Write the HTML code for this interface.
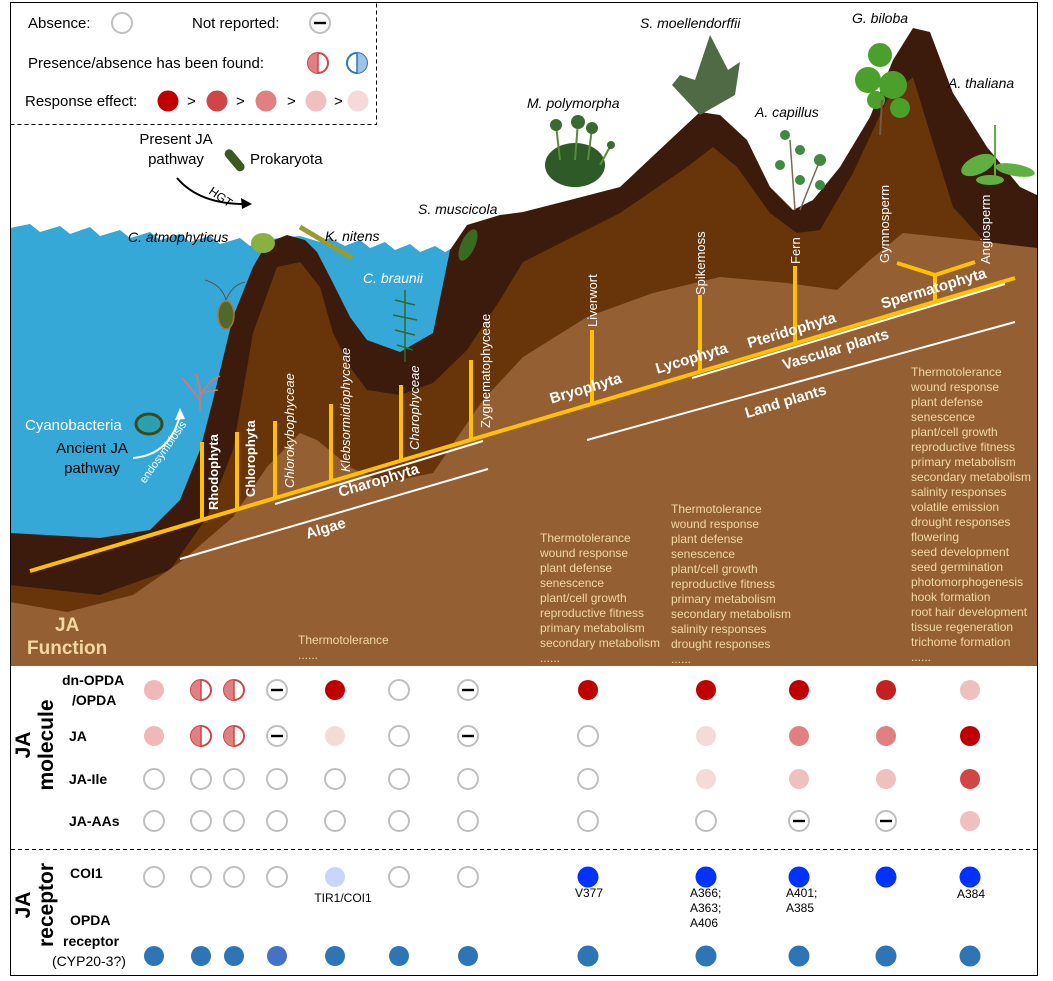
<!DOCTYPE html>
<html><head><meta charset="utf-8"><style>
html,body{margin:0;padding:0;background:#fff;}
svg{display:block;font-family:"Liberation Sans",Arial,sans-serif;}
.fn{fill:#f3d9a0;font-size:12px;}
.vl{fill:#fff;font-size:13px;}
.cl{fill:#fff;font-size:15px;font-weight:bold;}
.sp{font-size:14px;font-style:italic;fill:#000;}
.tl{font-size:14px;font-weight:bold;fill:#000;}
.lg{font-size:15px;fill:#000;}
</style></head><body>
<svg width="1053" height="981" viewBox="0 0 1053 981" xmlns="http://www.w3.org/2000/svg">
<defs>
<g id="e"><circle r="10" fill="#fff" stroke="#bfbfbf" stroke-width="2"/></g>
<g id="m"><circle r="10" fill="#fff" stroke="#bfbfbf" stroke-width="2"/><rect x="-6" y="-1.2" width="12" height="2.4" fill="#000"/></g>
<g id="h"><circle r="10" fill="#fff" stroke="#d04545" stroke-width="2"/><path d="M0,-10 A10,10 0 0,0 0,10 Z" fill="#e08080"/><line x1="0" y1="-10" x2="0" y2="10" stroke="#d04545" stroke-width="1.5"/></g>
</defs>
<polygon fill="#35a8d8" points="10,228 30,224 40,232 60,226 70,234 90,227 100,236 120,230 130,238 150,232 160,240 180,234 190,242 210,236 220,244 240,238 250,246 262,240 300,236 320,242 330,238 345,246 360,240 370,248 385,242 395,250 410,244 420,252 435,246 445,252 460,244 470,240 470,560 10,560"/>
<polygon fill="#3c1b0c" points="10,533 100,538 150,530 180,500 200,450 213,400 233,317 253,267 267,243 287,235 305,240 317,252 333,283 350,317 367,340 400,352 433,333 450,250 467,225 500,215 523,212 570,200 620,187 670,140 700,112 720,115 747,140 770,187 793,210 813,200 840,167 870,117 893,60 913,28 930,32 953,93 987,147 1020,187 1037,195 1037,666 10,666"/>
<polygon fill="#673509" points="10,585 100,595 170,570 207,517 233,450 253,333 277,267 300,262 320,287 333,333 350,367 367,390 400,395 433,383 467,350 500,300 523,262 620,213 687,167 713,147 737,167 770,213 797,233 820,230 853,173 887,100 913,77 930,133 953,207 1003,262 1037,275 1037,666 10,666"/>
<polygon fill="#935f33" points="10,602 67,612 133,595 183,560 233,517 267,467 300,433 317,440 350,467 383,483 433,473 483,400 523,357 587,317 653,293 720,277 787,283 837,290 870,260 903,233 970,240 1037,248 1037,666 10,666"/>
<rect x="10.5" y="2.5" width="1027" height="973" fill="none" stroke="#000" stroke-width="1"/>
<polyline points="10.5,124.5 376.5,124.5 376.5,2" fill="none" stroke="#000" stroke-dasharray="4,3"/>
<text class="lg" x="28" y="28">Absence:</text>
<circle cx="122" cy="23" r="10" fill="#fff" stroke="#bfbfbf" stroke-width="2"/>
<text class="lg" x="192" y="28">Not reported:</text>
<use href="#m" x="320" y="23"/>
<text class="lg" x="28" y="68">Presence/absence has been found:</text>
<use href="#h" x="318" y="63"/>
<circle cx="357" cy="63" r="10" fill="#fff" stroke="#2e75b6" stroke-width="2"/><path d="M357,53 A10,10 0 0,1 357,73 Z" fill="#9dc3e6"/><line x1="357" y1="53" x2="357" y2="73" stroke="#2e75b6" stroke-width="1.5"/>
<text class="lg" x="25" y="106">Response effect:</text>
<circle cx="168" cy="101" r="10.5" fill="#c00000"/><text class="lg" x="187" y="106">&gt;</text>
<circle cx="217" cy="101" r="10.5" fill="#d04545"/><text class="lg" x="236" y="106">&gt;</text>
<circle cx="266" cy="101" r="10.5" fill="#e08080"/><text class="lg" x="287" y="106">&gt;</text>
<circle cx="316" cy="101" r="10.5" fill="#eec0c0"/><text class="lg" x="334" y="106">&gt;</text>
<circle cx="358" cy="101" r="10.5" fill="#f5dada"/>
<text class="lg" x="176" y="144" text-anchor="middle">Present JA</text>
<text class="lg" x="176" y="164" text-anchor="middle">pathway</text>
<rect x="222" y="156" width="26" height="9" rx="4.5" fill="#3b5a23" transform="rotate(50 235 160)"/>
<text class="lg" x="250" y="164">Prokaryota</text>
<path d="M177,178 Q200,205 248,204" fill="none" stroke="#000" stroke-width="2"/>
<path d="M252,204 L241,198 L242,209 Z" fill="#000"/>
<text x="208" y="193" font-size="12" transform="rotate(35 208 193)" fill="#000">HGT</text>
<ellipse cx="575" cy="165" rx="30" ry="22" fill="#2e5a28"/>
<g stroke="#5a8a3a" stroke-width="2"><line x1="560" y1="160" x2="556" y2="125"/><line x1="575" y1="160" x2="578" y2="122"/><line x1="588" y1="160" x2="592" y2="128"/><line x1="600" y1="165" x2="611" y2="145"/></g>
<g fill="#3a6a30"><circle cx="556" cy="125" r="6"/><circle cx="578" cy="122" r="7"/><circle cx="592" cy="128" r="6"/><circle cx="611" cy="145" r="4"/></g>
<polygon points="710,35 728,70 740,62 735,95 700,115 672,85 680,75 695,80" fill="#4f6a45"/>
<g fill="#3e8a3e"><circle cx="785" cy="135" r="5"/><circle cx="800" cy="150" r="5"/><circle cx="780" cy="165" r="5"/><circle cx="820" cy="160" r="6"/><circle cx="800" cy="180" r="5"/><circle cx="820" cy="185" r="5"/></g>
<path d="M795,210 L790,140 M800,210 L820,160" stroke="#7a6a55" stroke-width="1.5" fill="none"/>
<g fill="#4aa02a"><circle cx="880" cy="55" r="12"/><circle cx="868" cy="80" r="13"/><circle cx="893" cy="85" r="14"/><circle cx="900" cy="108" r="10"/><circle cx="876" cy="100" r="9"/></g>
<line x1="880" y1="135" x2="882" y2="100" stroke="#7a5a3a" stroke-width="2"/>
<g fill="#5fb040"><ellipse cx="978" cy="165" rx="18" ry="9" transform="rotate(-25 978 165)"/><ellipse cx="1015" cy="170" rx="20" ry="6" transform="rotate(10 1015 170)"/><ellipse cx="990" cy="180" rx="14" ry="5"/></g>
<line x1="995" y1="178" x2="995" y2="125" stroke="#5fb040" stroke-width="2"/>
<ellipse cx="263" cy="243" rx="12" ry="10" fill="#8ab040"/>
<line x1="300" y1="227" x2="352" y2="258" stroke="#9a9a30" stroke-width="5"/>
<ellipse cx="468" cy="245" rx="7" ry="17" fill="#3a6a20" transform="rotate(25 468 245)"/>
<g stroke="#2f6a2a" stroke-width="1.5" fill="none"><line x1="405" y1="290" x2="405" y2="362"/><path d="M395,300 L415,305 M393,315 L417,320 M395,330 L415,335 M397,345 L413,350"/></g>
<ellipse cx="226" cy="315" rx="8" ry="14" fill="#4e6a2a" stroke="#b07040" stroke-width="1.5"/>
<path d="M226,300 Q222,285 205,280 M226,300 Q232,285 245,282" stroke="#555" fill="none"/>
<g stroke="#e8706a" stroke-width="1.5" fill="none"><path d="M200,412 L200,385 M200,400 L188,385 M200,395 L212,380 M188,385 L182,378 M212,380 L220,376 M200,388 L196,374 M205,392 L218,390"/></g>
<text x="25" y="430" font-size="15" fill="#fff">Cyanobacteria</text>
<ellipse cx="149" cy="424" rx="13" ry="10" fill="#2aa0b0" stroke="#3a4a1a" stroke-width="3"/>
<text x="92" y="453" font-size="15" text-anchor="middle" fill="#000">Ancient JA</text>
<text x="92" y="473" font-size="15" text-anchor="middle" fill="#000">pathway</text>
<path d="M133,458 Q170,455 180,415" fill="none" stroke="#fff" stroke-width="2"/>
<path d="M180,408 L175,420 L185,419 Z" fill="#fff"/>
<text x="145" y="484" font-size="11" fill="#fff" transform="rotate(-55 145 484)">endosymbiosis</text>
<text class="sp" x="640" y="28">S. moellendorffii</text>
<text class="sp" x="852" y="23">G. biloba</text>
<text class="sp" x="527" y="108">M. polymorpha</text>
<text class="sp" x="755" y="117">A. capillus</text>
<text class="sp" x="948" y="88">A. thaliana</text>
<text class="sp" x="418" y="214">S. muscicola</text>
<text class="sp" x="128" y="242">C. atmophyticus</text>
<text class="sp" x="325" y="241">K. nitens</text>
<text class="sp" x="363" y="283" style="fill:#fff">C. braunii</text>
<g stroke="#ffc000" stroke-width="4" fill="none">
<line x1="30" y1="571" x2="1015" y2="278"/>
<line x1="202" y1="442" x2="202" y2="520"/>
<line x1="237" y1="432" x2="237" y2="510"/>
<line x1="275" y1="421" x2="275" y2="498"/>
<line x1="331" y1="404" x2="331" y2="482"/>
<line x1="401" y1="385" x2="401" y2="461"/>
<line x1="471" y1="360" x2="471" y2="440"/>
<line x1="592" y1="330" x2="592" y2="404"/>
<line x1="700" y1="295" x2="700" y2="372"/>
<line x1="795" y1="266" x2="795" y2="343"/>
<line x1="935" y1="275" x2="935" y2="302"/>
<polyline points="897,263 935,275 975,262"/>
</g>
<g stroke="#fff" stroke-width="2">
<line x1="275" y1="504" x2="483" y2="441"/>
<line x1="180" y1="559" x2="488" y2="469"/>
<line x1="692" y1="378" x2="1005" y2="284"/>
<line x1="587" y1="440" x2="1015" y2="322"/>
</g>
<text class="vl" font-weight="bold" transform="translate(218,510) rotate(-90)">Rhodophyta</text>
<text class="vl" font-weight="bold" transform="translate(255,497) rotate(-90)">Chlorophyta</text>
<text class="vl" font-style="italic" transform="translate(294,488) rotate(-90)">Chlorokybophyceae</text>
<text class="vl" font-style="italic" transform="translate(350,472) rotate(-90)">Klebsormidiophyceae</text>
<text class="vl" font-style="italic" transform="translate(419,450) rotate(-90)">Charophyceae</text>
<text class="vl" transform="translate(490,428) rotate(-90)">Zygnematophyceae</text>
<text class="vl" transform="translate(597,327) rotate(-90)">Liverwort</text>
<text class="vl" transform="translate(705,295) rotate(-90)">Spikemoss</text>
<text class="vl" transform="translate(800,264) rotate(-90)">Fern</text>
<text class="vl" transform="translate(889,263) rotate(-90)">Gymnosperm</text>
<text class="vl" transform="translate(990,264) rotate(-90)">Angiosperm</text>
<text class="cl" text-anchor="middle" transform="translate(380,485) rotate(-16.7)">Charophyta</text>
<text class="cl" text-anchor="middle" font-size="16" transform="translate(327,533) rotate(-16.7)">Algae</text>
<text class="cl" text-anchor="middle" font-size="14" transform="translate(587,393) rotate(-16.7)">Bryophyta</text>
<text class="cl" text-anchor="middle" font-size="14" transform="translate(693,363) rotate(-16.7)">Lycophyta</text>
<text class="cl" text-anchor="middle" font-size="14" transform="translate(793,335) rotate(-16.7)">Pteridophyta</text>
<text class="cl" text-anchor="middle" font-size="14" transform="translate(935,293) rotate(-16.7)">Spermatophyta</text>
<text class="cl" text-anchor="middle" font-size="17" transform="translate(837,354) rotate(-16.7)">Vascular  plants</text>
<text class="cl" text-anchor="middle" font-size="17" transform="translate(787,406) rotate(-16.7)">Land plants</text>
<text x="55" y="631" font-size="19" font-weight="bold" fill="#f3d9a0">JA</text>
<text x="27" y="654" font-size="19" font-weight="bold" fill="#f3d9a0">Function</text>
<g class="fn">
<text x="298" y="644">Thermotolerance</text><text x="298" y="659">......</text>
<text x="540" y="542"><tspan x="540">Thermotolerance</tspan><tspan x="540" dy="15">wound response</tspan><tspan x="540" dy="15">plant defense</tspan><tspan x="540" dy="15">senescence</tspan><tspan x="540" dy="15">plant/cell growth</tspan><tspan x="540" dy="15">reproductive fitness</tspan><tspan x="540" dy="15">primary metabolism</tspan><tspan x="540" dy="15">secondary metabolism</tspan><tspan x="540" dy="15">......</tspan></text>
<text x="671" y="513"><tspan x="671">Thermotolerance</tspan><tspan x="671" dy="15">wound response</tspan><tspan x="671" dy="15">plant defense</tspan><tspan x="671" dy="15">senescence</tspan><tspan x="671" dy="15">plant/cell growth</tspan><tspan x="671" dy="15">reproductive fitness</tspan><tspan x="671" dy="15">primary metabolism</tspan><tspan x="671" dy="15">secondary metabolism</tspan><tspan x="671" dy="15">salinity responses</tspan><tspan x="671" dy="15">drought responses</tspan><tspan x="671" dy="15">......</tspan></text>
<text x="911" y="376"><tspan x="911">Thermotolerance</tspan><tspan x="911" dy="15">wound response</tspan><tspan x="911" dy="15">plant defense</tspan><tspan x="911" dy="15">senescence</tspan><tspan x="911" dy="15">plant/cell growth</tspan><tspan x="911" dy="15">reproductive fitness</tspan><tspan x="911" dy="15">primary metabolism</tspan><tspan x="911" dy="15">secondary metabolism</tspan><tspan x="911" dy="15">salinity responses</tspan><tspan x="911" dy="15">volatile emission</tspan><tspan x="911" dy="15">drought responses</tspan><tspan x="911" dy="15">flowering</tspan><tspan x="911" dy="15">seed development</tspan><tspan x="911" dy="15">seed germination</tspan><tspan x="911" dy="15">photomorphogenesis</tspan><tspan x="911" dy="15">hook formation</tspan><tspan x="911" dy="15">root hair development</tspan><tspan x="911" dy="15">tissue regeneration</tspan><tspan x="911" dy="15">trichome formation</tspan><tspan x="911" dy="15">......</tspan></text>
</g>
<rect x="11" y="666" width="1026" height="309" fill="#fff"/>
<line x1="10.5" y1="666" x2="10.5" y2="976" stroke="#000"/>
<line x1="1037.5" y1="666" x2="1037.5" y2="976" stroke="#000"/>
<line x1="10" y1="975.5" x2="1038" y2="975.5" stroke="#000"/>
<line x1="11" y1="849.5" x2="1037" y2="849.5" stroke="#000" stroke-dasharray="4,3"/>
<text class="tl" x="62" y="685">dn-OPDA</text>
<text class="tl" x="72" y="705">/OPDA</text>
<text class="tl" x="69" y="741">JA</text>
<text class="tl" x="69" y="784">JA-Ile</text>
<text class="tl" x="69" y="826">JA-AAs</text>
<text class="tl" x="70" y="878">COI1</text>
<text class="tl" x="70" y="925">OPDA</text>
<text class="tl" x="63" y="946">receptor</text>
<text x="52" y="966" font-size="14" fill="#000">(CYP20-3?)</text>
<text font-size="21" font-weight="bold" fill="#000" text-anchor="middle" transform="translate(30,745) rotate(-90)">JA</text>
<text font-size="21" font-weight="bold" fill="#000" text-anchor="middle" transform="translate(53,745) rotate(-90)">molecule</text>
<text font-size="21" font-weight="bold" fill="#000" text-anchor="middle" transform="translate(30,905) rotate(-90)">JA</text>
<text font-size="21" font-weight="bold" fill="#000" text-anchor="middle" transform="translate(53,905) rotate(-90)">receptor</text>
<circle cx="154" cy="690" r="10" fill="#f0b8b8"/><use href="#h" x="201" y="690"/><use href="#h" x="234" y="690"/><use href="#m" x="277" y="690"/>
<circle cx="335" cy="690" r="10" fill="#c00000"/><use href="#e" x="399" y="690"/><use href="#m" x="468" y="690"/>
<circle cx="588" cy="690" r="10" fill="#c00000"/><circle cx="706" cy="690" r="10" fill="#c00000"/><circle cx="799" cy="690" r="10" fill="#c00000"/><circle cx="886" cy="690" r="10" fill="#c42020"/><circle cx="970" cy="690" r="10" fill="#eec0c0"/>
<circle cx="154" cy="736" r="10" fill="#f0b8b8"/><use href="#h" x="201" y="736"/><use href="#h" x="234" y="736"/><use href="#m" x="277" y="736"/>
<circle cx="335" cy="736" r="10" fill="#f5dada"/><use href="#e" x="399" y="736"/><use href="#m" x="468" y="736"/>
<use href="#e" x="588" y="736"/><circle cx="706" cy="736" r="10" fill="#f5dada"/><circle cx="799" cy="736" r="10" fill="#e08080"/><circle cx="886" cy="736" r="10" fill="#e08080"/><circle cx="970" cy="736" r="10" fill="#c00000"/>
<use href="#e" x="154" y="779"/><use href="#e" x="201" y="779"/><use href="#e" x="234" y="779"/><use href="#e" x="277" y="779"/><use href="#e" x="335" y="779"/><use href="#e" x="399" y="779"/><use href="#e" x="468" y="779"/><use href="#e" x="588" y="779"/>
<circle cx="706" cy="779" r="10" fill="#f5dada"/><circle cx="799" cy="779" r="10" fill="#eec0c0"/><circle cx="886" cy="779" r="10" fill="#eec0c0"/><circle cx="970" cy="779" r="10" fill="#d04545"/>
<use href="#e" x="154" y="821"/><use href="#e" x="201" y="821"/><use href="#e" x="234" y="821"/><use href="#e" x="277" y="821"/><use href="#e" x="335" y="821"/><use href="#e" x="399" y="821"/><use href="#e" x="468" y="821"/><use href="#e" x="588" y="821"/><use href="#e" x="706" y="821"/>
<use href="#m" x="799" y="821"/><use href="#m" x="886" y="821"/><circle cx="970" cy="821" r="10" fill="#eec0c0"/>
<use href="#e" x="154" y="877"/><use href="#e" x="201" y="877"/><use href="#e" x="234" y="877"/><use href="#e" x="277" y="877"/>
<circle cx="335" cy="877" r="10" fill="#c9d5fb"/><use href="#e" x="399" y="877"/><use href="#e" x="468" y="877"/>
<circle cx="588" cy="877" r="10.5" fill="#0033ff"/><circle cx="706" cy="877" r="10.5" fill="#0033ff"/><circle cx="799" cy="877" r="10.5" fill="#0033ff"/><circle cx="886" cy="877" r="10.5" fill="#0033ff"/><circle cx="970" cy="877" r="10.5" fill="#0033ff"/>
<g font-size="12" fill="#000">
<text x="343" y="902" text-anchor="middle">TIR1/COI1</text>
<text x="575" y="897">V377</text>
<text x="690" y="897">A366;</text><text x="690" y="912">A363;</text><text x="690" y="927">A406</text>
<text x="786" y="897">A401;</text><text x="786" y="912">A385</text>
<text x="957" y="898">A384</text>
</g>
<g fill="#2e75b6">
<circle cx="154" cy="956" r="10"/><circle cx="201" cy="956" r="10"/><circle cx="234" cy="956" r="10"/><circle cx="277" cy="956" r="10" fill="#4472c4"/><circle cx="335" cy="956" r="10"/><circle cx="399" cy="956" r="10"/><circle cx="468" cy="956" r="10"/><circle cx="588" cy="956" r="10.5"/><circle cx="706" cy="956" r="10.5"/><circle cx="799" cy="956" r="10.5"/><circle cx="886" cy="956" r="10.5"/><circle cx="970" cy="956" r="10.5"/>
</g>
</svg>
</body></html>
